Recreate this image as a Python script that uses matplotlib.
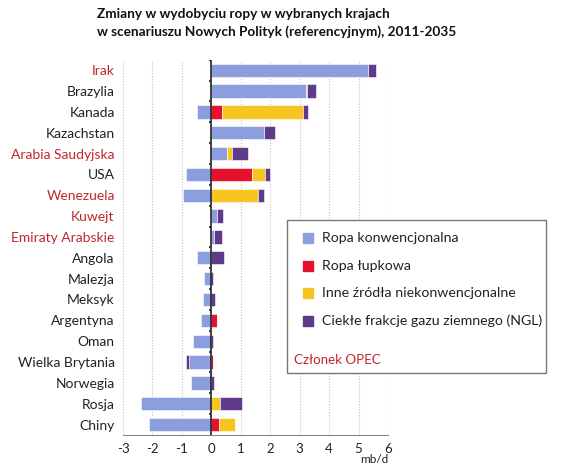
import numpy as np
import matplotlib
matplotlib.use("Agg")
import matplotlib.pyplot as plt
from matplotlib.patches import Rectangle
from matplotlib.lines import Line2D

plt.rcParams["font.family"] = ["Lato", "DejaVu Sans"]

countries = ["Irak", "Brazylia", "Kanada", "Kazachstan", "Arabia Saudyjska", "USA",
             "Wenezuela", "Kuwejt", "Emiraty Arabskie", "Angola", "Malezja", "Meksyk",
             "Argentyna", "Oman", "Wielka Brytania", "Norwegia", "Rosja", "Chiny"]
opec = ["Irak", "Arabia Saudyjska", "Wenezuela", "Kuwejt", "Emiraty Arabskie"]

# mb/d, change 2011-2035
conv  = [5.32, 3.21, -0.48, 1.78, 0.54, -0.86, -0.96, 0.20, 0.08, -0.48, -0.25, -0.30,
         -0.35, -0.62, -0.76, -0.69, -2.38, -2.11]
shale = [0.00, 0.00, 0.36, 0.00, 0.00, 1.39, 0.00, 0.00, 0.00, 0.00, 0.00, 0.00,
         0.18, 0.00, 0.05, 0.00, 0.00, 0.25]
other = [0.00, 0.05, 2.74, 0.00, 0.15, 0.43, 1.58, 0.00, 0.00, 0.00, 0.00, 0.00,
         0.00, 0.00, 0.00, 0.00, 0.28, 0.56]
ngl   = [0.28, 0.28, 0.19, 0.37, 0.54, 0.17, 0.21, 0.21, 0.29, 0.43, 0.05, 0.14,
         0.00, 0.05, -0.10, 0.09, 0.76, 0.00]

series_names = ["Ropa konwencjonalna", "Ropa łupkowa",
                "Inne źródła niekonwencjonalne", "Ciekłe frakcje gazu ziemnego (NGL)"]
colors = ["#8C9EDE", "#E8112D", "#F7C520", "#5E3A8A"]
xticks = [-3, -2, -1, 0, 1, 2, 3, 4, 5, 6]

fig = plt.figure(figsize=(5.7, 4.72), dpi=100)
ax = fig.add_axes([0.2158, 0.0784, 0.4649, 0.795])

y = np.arange(len(countries))
pos_base = np.zeros(len(countries))
neg_base = np.zeros(len(countries))
for vals, col in zip([conv, shale, other, ngl], colors):
    v = np.array(vals)
    left = np.where(v >= 0, pos_base, neg_base)
    ax.barh(y, v, left=left, height=0.64, color=col, edgecolor="white", linewidth=0.4)
    pos_base += np.where(v >= 0, v, 0)
    neg_base += np.where(v < 0, v, 0)

ax.set_xlim(-3, 6)
ax.set_ylim(len(countries) - 0.5, -0.5)
ax.set_xticks(xticks)
ax.set_xticklabels([str(t) for t in xticks], fontsize=9.5, color="#222222")
ax.tick_params(axis="x", length=0, pad=6)
for t in xticks:
    if t != 0:
        ax.axvline(t, color="#C4C4C4", linestyle=(0, (1, 1.5)), linewidth=0.8, zorder=0)

ax.set_yticks(y)
ax.set_yticklabels(countries, fontsize=10)
ax.tick_params(axis="y", length=0, pad=6)
for lbl, name in zip(ax.get_yticklabels(), countries):
    lbl.set_color("#C0272D" if name in opec else "#222222")

for s in ["top", "right", "left"]:
    ax.spines[s].set_visible(False)
ax.spines["bottom"].set_color("#888888")

ax.axvline(0, color="#222222", linewidth=1.2, zorder=3)
bounds = np.arange(-0.5, len(countries) - 0.5)
ax.hlines(bounds, -0.08, 0, color="#222222", linewidth=1.2, zorder=3)

fig.text(388 / 570, 0.015, "mb/d", ha="right", va="bottom", fontsize=8.5, color="#222222")

fig.text(97 / 570, 1 - 8 / 472, "Zmiany w wydobyciu ropy w wybranych krajach\n"
         "w scenariuszu Nowych Polityk (referencyjnym), 2011-2035",
         ha="left", va="top", fontsize=9.8, fontweight="bold", color="#111111",
         linespacing=1.5)

# legend box
fig.patches.append(Rectangle((287 / 570, 1 - 373 / 472), 259 / 570, 153 / 472,
                             transform=fig.transFigure, facecolor="white",
                             edgecolor="#777777", linewidth=1.0, zorder=5))
for i, (name, col) in enumerate(zip(series_names, colors)):
    yy = 1 - (238 + i * 27.7) / 472
    fig.lines.append(Line2D([307.7 / 570], [yy], marker="s", markersize=7, color=col,
                            linestyle="none", transform=fig.transFigure, zorder=6))
    fig.text(321.5 / 570, yy, name, ha="left", va="center", fontsize=10.2,
             color="#222222", zorder=6)
fig.text(294 / 570, 1 - 360 / 472, "Członek OPEC", ha="left", va="center",
         fontsize=9.6, color="#C0272D", zorder=6)

fig.savefig("out.png", dpi=100)
